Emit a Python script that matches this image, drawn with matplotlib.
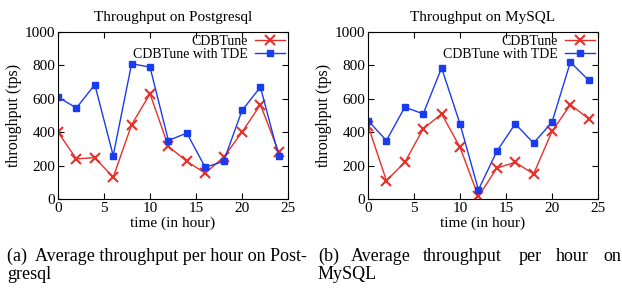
import matplotlib.pyplot as plt
import numpy as np

hours = [0, 2, 4, 6, 8, 10, 12, 14, 16, 18, 20, 22, 24]

# Postgresql
pg_cdbtune = [400, 240, 248, 130, 445, 630, 315, 225, 155, 250, 400, 565, 280]
pg_tde = [610, 545, 685, 260, 810, 790, 350, 395, 190, 225, 530, 670, 255]

# MySQL
my_cdbtune = [440, 110, 220, 420, 510, 310, 15, 185, 220, 150, 405, 565, 480]
my_tde = [470, 350, 550, 510, 785, 450, 55, 285, 450, 335, 460, 820, 710]

titles = ["Throughput on Postgresql", "Throughput on MySQL"]
series = [(pg_cdbtune, pg_tde), (my_cdbtune, my_tde)]

plt.rcParams['font.family'] = ['Liberation Serif', 'DejaVu Serif']

fig = plt.figure(figsize=(6.22, 2.88), dpi=100)
W, H = 622, 288
boxes = [(58, 32, 288, 199), (368, 32, 598, 199)]

red = '#e8302a'
blue = '#1a3cf0'

for (x0, y0, x1, y1), title, (s1, s2) in zip(boxes, titles, series):
    ax = fig.add_axes([x0 / W, 1 - y1 / H, (x1 - x0) / W, (y1 - y0) / H])
    ax.plot(hours, s1, color=red, lw=1, marker='x', ms=7, mew=1.5, label='CDBTune')
    ax.plot(hours, s2, color=blue, lw=1, marker='s', ms=5, label='CDBTune with TDE')
    ax.set_xlim(0, 25)
    ax.set_ylim(0, 1000)
    ax.set_xticks([0, 5, 10, 15, 20, 25])
    ax.set_yticks([0, 200, 400, 600, 800, 1000])
    ax.tick_params(direction='in', top=True, right=True, labelsize=11, length=4, pad=2)
    ax.set_title(title, fontsize=11, pad=8)
    ax.set_xlabel('time (in hour)', fontsize=11, labelpad=1)
    ax.set_ylabel('throughput (tps)', fontsize=11.5, labelpad=2)
    ax.legend(loc='upper right', frameon=False, markerfirst=False, fontsize=10,
              handlelength=2.2, handletextpad=0.5, labelspacing=0.0,
              borderaxespad=0.1, borderpad=0.1)

cap_size = 13
fig.text(7 / W, 1 - 261 / H, '(a)  Average throughput per hour on Post-',
         fontsize=cap_size, va='baseline')
fig.text(7 / W, 1 - 279 / H, 'gresql', fontsize=cap_size, va='baseline')

words_b = ['(b)', 'Average', 'throughput', 'per', 'hour']
xs_b = [318, 351, 423, 519, 556]
for w, xp in zip(words_b, xs_b):
    fig.text(xp / W, 1 - 261 / H, w, fontsize=cap_size, va='baseline')
fig.text(621 / W, 1 - 261 / H, 'on', fontsize=cap_size, va='baseline', ha='right')
fig.text(318 / W, 1 - 279 / H, 'MySQL', fontsize=cap_size, va='baseline')

fig.savefig('out.png', dpi=100)
